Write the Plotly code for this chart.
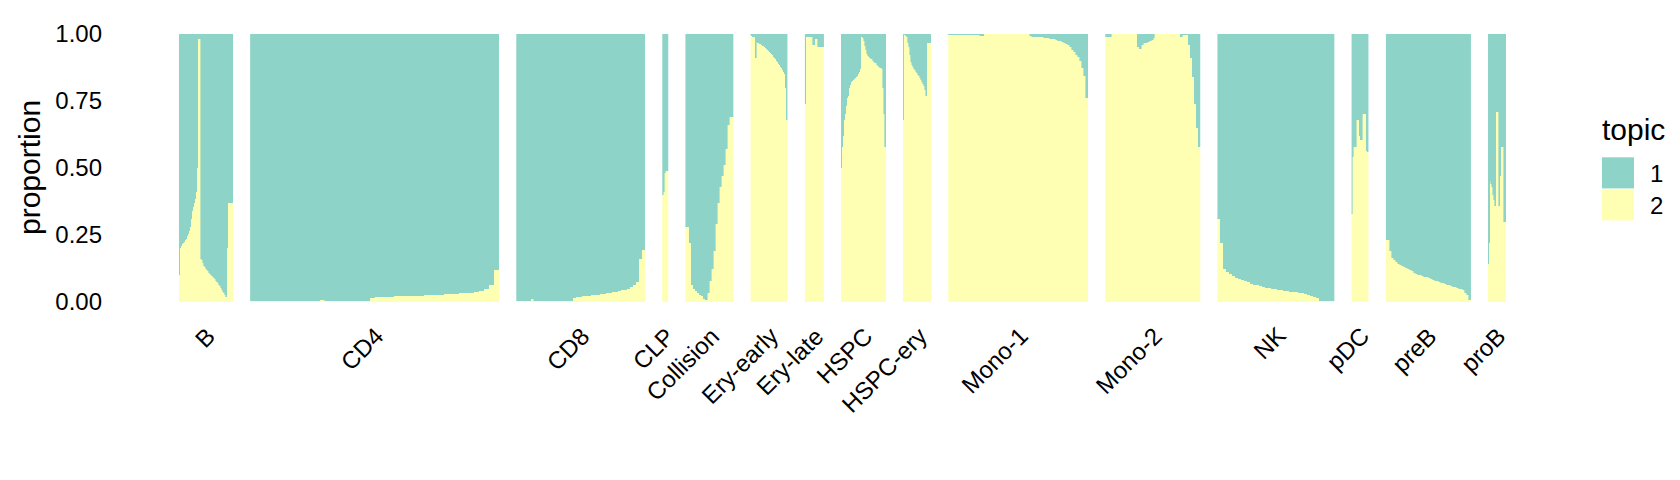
import plotly.graph_objects as go

# ---------------- data ----------------
groups = ["B", "CD4", "CD8", "CLP", "Collision", "Ery-early", "Ery-late", "HSPC",
          "HSPC-ery", "Mono-1", "Mono-2", "NK", "pDC", "preB", "proB"]
# estimated relative number of cells per group
group_sizes = [54, 249, 129, 6, 48, 37, 19, 45, 28, 140, 95, 117, 17, 85, 18]

# proportion of topic 2 per (binned) cell, in plotted order
t2_B = [0.10, 0.20, 0.21, 0.215, 0.22, 0.225, 0.23, 0.235, 0.245, 0.255, 0.265, 0.28, 0.31,
        0.34, 0.355, 0.37, 0.385, 0.41, 0.50, 0.98, 0.98, 0.98, 0.16, 0.155, 0.145, 0.135,
        0.13, 0.125, 0.12, 0.115, 0.11, 0.105, 0.10, 0.097, 0.093, 0.09, 0.085, 0.08, 0.075,
        0.07, 0.065, 0.058, 0.052, 0.045, 0.038, 0.032, 0.025, 0.02, 0.20, 0.37, 0.37, 0.37,
        0.37, 0.37]
t2_CD4 = [0.002, 0.002, 0.002, 0.002, 0.002, 0.002, 0.002, 0.002, 0.002, 0.002, 0.002, 0.002,
          0.002, 0.002, 0.008, 0.002, 0.002, 0.002, 0.002, 0.002, 0.002, 0.002, 0.002, 0.002,
          0.016, 0.017, 0.018, 0.019, 0.020, 0.021, 0.022, 0.023, 0.023, 0.024, 0.024, 0.025,
          0.026, 0.027, 0.028, 0.029, 0.030, 0.031, 0.032, 0.033, 0.035, 0.037, 0.040, 0.047,
          0.065, 0.12]
t2_CD8 = [0.002, 0.002, 0.002, 0.002, 0.002, 0.01, 0.002, 0.002, 0.002, 0.002, 0.002, 0.002,
          0.002, 0.002, 0.002, 0.002, 0.002, 0.002, 0.002, 0.016, 0.018, 0.020, 0.021, 0.023,
          0.024, 0.025, 0.027, 0.028, 0.030, 0.031, 0.033, 0.034, 0.036, 0.038, 0.040, 0.043,
          0.046, 0.050, 0.055, 0.064, 0.075, 0.16, 0.195]
t2_CLP = [0.40, 0.41, 0.48, 0.49, 0.49, 0.49]
t2_Collision = [0.28, 0.28, 0.22, 0.065, 0.05, 0.04, 0.032, 0.026, 0.021, 0.012, 0.006, 0.035,
                0.08, 0.125, 0.19, 0.29, 0.37, 0.43, 0.47, 0.51, 0.57, 0.66, 0.69, 0.69]
t2_EryEarly = [0.995, 0.993, 0.99, 0.99, 0.99, 0.91, 0.97, 0.968, 0.966, 0.964, 0.962, 0.96,
               0.957, 0.954, 0.95, 0.947, 0.943, 0.94, 0.936, 0.932, 0.928, 0.924, 0.92, 0.915,
               0.91, 0.905, 0.90, 0.895, 0.889, 0.884, 0.878, 0.872, 0.866, 0.86, 0.85, 0.80,
               0.68]
t2_EryLate = [0.74, 0.99, 0.99, 0.99, 0.99, 0.99, 0.99, 0.99, 0.96, 0.96, 0.98, 0.98, 0.98,
              0.95, 0.95, 0.95, 0.95, 0.95, 0.95]
t2_HSPC = [0.50, 0.58, 0.62, 0.68, 0.70, 0.73, 0.76, 0.77, 0.80, 0.81, 0.82, 0.824, 0.828,
           0.832, 0.836, 0.84, 0.845, 0.85, 0.86, 0.87, 0.99, 0.99, 0.985, 0.975, 0.955, 0.94,
           0.925, 0.918, 0.915, 0.912, 0.908, 0.905, 0.90, 0.897, 0.893, 0.89, 0.886, 0.882,
           0.878, 0.875, 0.872, 0.868, 0.80, 0.70, 0.58]
t2_HSPCery = [0.68, 0.995, 0.995, 0.993, 0.99, 0.965, 0.95, 0.92, 0.895, 0.885, 0.878, 0.87,
              0.865, 0.86, 0.853, 0.848, 0.843, 0.836, 0.83, 0.822, 0.815, 0.805, 0.79, 0.77,
              0.967, 0.967, 0.967, 0.967]
t2_Mono1 = [0.995, 0.995, 0.995, 0.995, 0.995, 0.995, 0.995, 0.995, 0.995, 0.995, 0.995, 0.995,
            0.995, 0.995, 0.995, 0.995, 0.993, 0.993, 0.999, 0.999, 0.999, 0.999, 0.999, 0.999,
            0.999, 0.999, 0.999, 0.999, 0.999, 0.999, 0.999, 0.999, 0.999, 0.999, 0.999, 0.999,
            0.999, 0.999, 0.999, 0.999, 0.999, 0.993, 0.99, 0.99, 0.99, 0.988, 0.988, 0.987,
            0.986, 0.985, 0.984, 0.982, 0.98, 0.98, 0.978, 0.975, 0.973, 0.971, 0.968, 0.962,
            0.958, 0.95, 0.942, 0.932, 0.922, 0.913, 0.898, 0.875, 0.845, 0.76]
t2_Mono2 = [0.99, 0.99, 0.99, 0.999, 0.999, 0.999, 0.999, 0.999, 0.999, 0.999, 0.999, 0.999,
            0.999, 0.999, 0.999, 0.999, 0.95, 0.945, 0.96, 0.965, 0.968, 0.972, 0.975, 0.978,
            0.985, 0.999, 0.999, 0.999, 0.999, 0.999, 0.999, 0.999, 0.999, 0.999, 0.999, 0.999,
            0.999, 0.999, 0.988, 0.995, 0.995, 0.995, 0.96, 0.91, 0.84, 0.74, 0.65, 0.58]
t2_NK = [0.31, 0.22, 0.125, 0.112, 0.105, 0.097, 0.091, 0.086, 0.082, 0.077, 0.073, 0.069,
         0.065, 0.062, 0.059, 0.056, 0.053, 0.051, 0.049, 0.047, 0.045, 0.043, 0.042, 0.041,
         0.039, 0.038, 0.037, 0.035, 0.033, 0.030, 0.027, 0.024, 0.02, 0.016, 0.002, 0.002,
         0.002, 0.002, 0.002]
t2_pDC = [0.33, 0.54, 0.58, 0.58, 0.58, 0.68, 0.68, 0.68, 0.62, 0.605, 0.605, 0.70, 0.70, 0.70,
          0.70, 0.565, 0.56]
t2_preB = [0.23, 0.23, 0.19, 0.165, 0.155, 0.148, 0.143, 0.138, 0.134, 0.13, 0.126, 0.122,
           0.118, 0.114, 0.11, 0.106, 0.102, 0.099, 0.097, 0.095, 0.092, 0.089, 0.086, 0.083,
           0.08, 0.077, 0.074, 0.072, 0.07, 0.067, 0.064, 0.062, 0.06, 0.057, 0.055, 0.052,
           0.05, 0.048, 0.045, 0.035, 0.025, 0.006]
t2_proB = [0.14, 0.22, 0.45, 0.44, 0.43, 0.40, 0.38, 0.36, 0.71, 0.71, 0.71, 0.36, 0.47, 0.58,
           0.58, 0.58, 0.30, 0.30]

topic2 = [t2_B, t2_CD4, t2_CD8, t2_CLP, t2_Collision, t2_EryEarly, t2_EryLate, t2_HSPC,
          t2_HSPCery, t2_Mono1, t2_Mono2, t2_NK, t2_pDC, t2_preB, t2_proB]

y_ticks = [0, 0.25, 0.5, 0.75, 1.0]
y_ticktext = ["0.00", "0.25", "0.50", "0.75", "1.00"]
topic_names = ["1", "2"]

# ---------------- style / layout ----------------
TEAL = "#8DD3C7"
YELLOW = "#FFFFB3"
FONT = "Liberation Sans"
OFF = 8                      # default body margin of the html page
W, H = 1680 - OFF, 480 - OFF
# plot area in page pixels: x 179..1506, y 26..302
ML, MT = 179 - OFF, 26 - OFF
MR = W - (1506 - OFF)
MB = H - (302 - OFF)
PW = W - ML - MR
PH = H - MT - MB
GAP = 17.14


def px_x(px):  # page pixel -> paper x
    return (px - OFF - ML) / PW


def px_y(py):  # page pixel -> paper y
    return (H - MB - (py - OFF)) / PH


fig = go.Figure()
layout_axes = {}
annotations = []
scale = (PW - GAP * (len(groups) - 1)) / sum(group_sizes)
cursor = 0.0
for i, (name, size, vals) in enumerate(zip(groups, group_sizes, topic2)):
    w = size * scale
    d0, d1 = cursor / PW, (cursor + w) / PW
    center_paper = (cursor + w / 2) / PW
    cursor += w + GAP
    axname = "x" if i == 0 else f"x{i + 1}"
    idx = list(range(len(vals)))
    topic1 = [1 - v for v in vals]
    fig.add_trace(go.Bar(x=idx, y=vals, width=1, xaxis=axname, yaxis="y",
                         marker=dict(color=YELLOW, line=dict(width=0.6, color=YELLOW)),
                         showlegend=False, hoverinfo="skip"))
    fig.add_trace(go.Bar(x=idx, y=topic1, width=1, xaxis=axname, yaxis="y",
                         marker=dict(color=TEAL, line=dict(width=0.6, color=TEAL)),
                         showlegend=False, hoverinfo="skip"))
    key = "xaxis" if i == 0 else f"xaxis{i + 1}"
    layout_axes[key] = dict(domain=[min(d0, 1), min(d1, 1)], range=[-0.5, len(vals) - 0.5],
                            anchor="y", visible=False, fixedrange=True)
    annotations.append(dict(text=name, x=center_paper, xshift=17, y=px_y(320),
                            xref="paper", yref="paper", xanchor="right", yanchor="top",
                            textangle=-45, showarrow=False,
                            font=dict(family=FONT, size=24, color="black")))

# y-axis title
annotations.append(dict(text="proportion", x=px_x(29), y=0.5, xref="paper", yref="paper",
                        xanchor="center", yanchor="middle", textangle=-90, showarrow=False,
                        font=dict(family=FONT, size=30, color="black")))

# legend (drawn manually to match ggplot key sizes)
shapes = []
leg_colors = [TEAL, YELLOW]
key_top = 153
key_h = 33
for k, (lab, col) in enumerate(zip(topic_names, leg_colors)):
    y0 = key_top + k * key_h
    shapes.append(dict(type="rect", xref="paper", yref="paper",
                       x0=px_x(1602), x1=px_x(1634), y0=px_y(y0 + key_h - 1), y1=px_y(y0),
                       fillcolor=col, line=dict(width=0)))
    annotations.append(dict(text=lab, x=px_x(1648), y=px_y(y0 + key_h / 2), xref="paper",
                            yref="paper", xanchor="left", yanchor="middle", showarrow=False,
                            font=dict(family=FONT, size=24, color="black")))
annotations.append(dict(text="topic", x=px_x(1600), y=px_y(124), xref="paper", yref="paper",
                        xanchor="left", yanchor="middle", showarrow=False,
                        font=dict(family=FONT, size=30, color="black")))

fig.update_layout(
    width=W, height=H,
    margin=dict(l=ML, r=MR, t=MT, b=MB),
    barmode="stack", bargap=0,
    plot_bgcolor="white", paper_bgcolor="white",
    showlegend=False,
    yaxis=dict(domain=[0, 1], range=[0, 1], tickvals=y_ticks, ticktext=y_ticktext,
               showgrid=False, zeroline=False, showline=False, ticks="",
               tickfont=dict(family=FONT, size=24, color="black"),
               ticklabelstandoff=76, fixedrange=True),
    annotations=annotations,
    shapes=shapes,
    **layout_axes,
)

fig.write_html("out.html")
